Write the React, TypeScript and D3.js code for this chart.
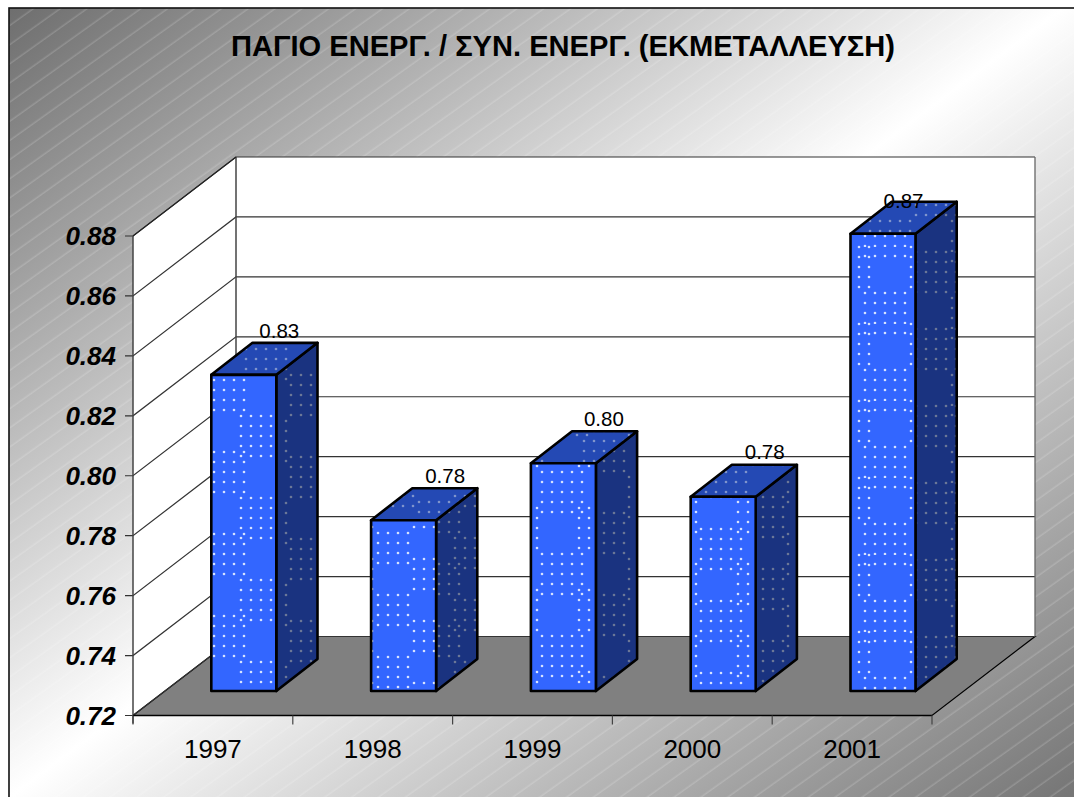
import React from "react";
import * as d3 from "d3";

const title = "ΠΑΓΙΟ ΕΝΕΡΓ. / ΣΥΝ. ΕΝΕΡΓ. (ΕΚΜΕΤΑΛΛΕΥΣΗ)";
const years = ["1997", "1998", "1999", "2000", "2001"];
const ratios = [0.8255, 0.777, 0.796, 0.7848, 0.8726];
const yTicks = [0.72, 0.74, 0.76, 0.78, 0.8, 0.82, 0.84, 0.86, 0.88];

// layout
const W = 1074, H = 797;
const FRONT_L = 133, FRONT_R = 932, FLOOR_Y = 715.5, TOP_Y = 236;
const DX = 103, DY = 79;
const BAR_W = 65;
const x = d3.scaleBand<string>().domain(years).range([FRONT_L, FRONT_R]);
const y = d3.scaleLinear().domain([0.72, 0.88]).range([FLOOR_Y, TOP_Y]);
const line = d3.line<[number, number]>();
const poly = (p: [number, number][]) => line(p) + "Z";

// dot texture anchors of each column (the texture drifts between columns)
const textures = [
  { ax: 204, ay: 452, bx: 241, by: 416, py: 82 },
  { ax: 368, ay: 533, bx: 414, by: 559, py: 62 },
  { ax: 542, ay: 472, bx: 579, by: 508, py: 82 },
  { ax: 701, ay: 529, bx: 738, by: 564, py: 72 },
  { ax: 829, ay: 247, bx: 865, by: 293, py: 77 },
];
const labelOffsets = [
  { dx: 68, dy: -37 },
  { dx: 74, dy: -37 },
  { dx: 73, dy: -37 },
  { dx: 74, dy: -38 },
  { dx: 53, dy: -26 },
];
const PX = 82;

function dots(t: { ax: number; ay: number; bx: number; by: number; py: number }, fill: string) {
  const mod = (v: number, m: number) => ((v % m) + m) % m;
  const rows = t.py < 70 ? 4 : 5;
  const out: React.ReactElement[] = [];
  const add = (ox: number, oy: number, key: string) => {
    d3.range(5).forEach((i) =>
      d3.range(rows).forEach((j) => {
        const cx = mod(ox + i * 10, PX);
        const cy = mod(oy + j * 10, t.py);
        [0, PX].forEach((sx) =>
          [0, t.py].forEach((sy) =>
            out.push(<circle key={`${key}${i}-${j}-${sx}-${sy}`} cx={cx + sx} cy={cy + sy} r={1.3} fill={fill} />)
          )
        );
      })
    );
  };
  add(0, 0, "a");
  add(t.bx - t.ax, t.by - t.ay, "b");
  return out;
}

function Pattern({ id, t, fill, sx = 0, sy = 0 }: any) {
  return (
    <pattern id={id} patternUnits="userSpaceOnUse" width={PX} height={t.py} x={t.ax + sx} y={t.ay + sy}>
      {dots(t, fill)}
    </pattern>
  );
}

export default function App() {
  const band = x.bandwidth();
  const baseDx = DX * 0.3, baseDy = DY * 0.31;
  const depthX = DX * 0.4, depthY = DY * 0.405;
  const fam = "'Liberation Sans', Arial, sans-serif";
  return (
    <svg width={W} height={H} viewBox={`0 0 ${W} ${H}`} style={{ position: "absolute", left: 0, top: 0, display: "block" }}>
      <defs>
        <linearGradient id="bg" gradientUnits="userSpaceOnUse" x1={161} y1={-106} x2={919} y2={906}>
          <stop offset="0" stopColor="#6e6e6e" />
          <stop offset="0.5" stopColor="#ffffff" />
          <stop offset="1" stopColor="#767676" />
        </linearGradient>
        <pattern id="hatch" patternUnits="userSpaceOnUse" width={40} height={15.6} patternTransform="rotate(-35.5 9 8)">
          <line x1={0} x2={40} y1={7} y2={7} stroke="#fff" strokeOpacity={0.3} strokeWidth={0.8} />
        </pattern>
        {textures.map((t, i) => (
          <g key={i}>
            <Pattern id={`front${i}`} t={t} fill="#d6e2ff" />
            <Pattern id={`side${i}`} t={t} fill="#6b7797" sx={5} sy={5} />
            <Pattern id={`top${i}`} t={t} fill="#8094cc" sx={5} sy={5} />
          </g>
        ))}
      </defs>

      <rect width={W} height={H} fill="#fff" />
      <rect x={9} y={8} width={W + 10} height={H + 10} fill="url(#bg)" />
      <rect x={9} y={8} width={W + 10} height={H + 10} fill="url(#hatch)" />
      <rect x={9} y={8} width={W + 10} height={H + 10} fill="none" stroke="#111" strokeWidth={1.6} />

      <text x={563} y={55.5} textAnchor="middle" fontFamily={fam} fontWeight="bold" fontSize={29.1} fill="#000">{title}</text>

      {/* walls */}
      <path d={poly([[FRONT_L, FLOOR_Y], [FRONT_L, TOP_Y], [FRONT_L + DX, TOP_Y - DY], [FRONT_L + DX, FLOOR_Y - DY]])} fill="#fff" />
      <path d={poly([[FRONT_L + DX, FLOOR_Y - DY], [FRONT_L + DX, TOP_Y - DY], [FRONT_R + DX, TOP_Y - DY], [FRONT_R + DX, FLOOR_Y - DY]])} fill="#fff" />
      <path d={poly([[FRONT_L, FLOOR_Y], [FRONT_R, FLOOR_Y], [FRONT_R + DX, FLOOR_Y - DY], [FRONT_L + DX, FLOOR_Y - DY]])} fill="#808080" stroke="#000" strokeWidth={1.2} />

      {yTicks.map((v) => (
        <g key={v}>
          <path d={line([[FRONT_L - 8, y(v)], [FRONT_L, y(v)], [FRONT_L + DX, y(v) - DY], [FRONT_R + DX, y(v) - DY]])!} fill="none" stroke="#333" strokeWidth={1.2} />
          <text x={116} y={y(v) + 9} textAnchor="end" fontFamily={fam} fontWeight="bold" fontStyle="italic" fontSize={26} fill="#000">{v.toFixed(2)}</text>
        </g>
      ))}
      <path d={line([[FRONT_L, TOP_Y], [FRONT_L, FLOOR_Y + 8]])!} stroke="#444" strokeWidth={1.5} fill="none" />
      <path d={line([[FRONT_L + DX, FLOOR_Y - DY], [FRONT_L + DX, TOP_Y - DY]])!} stroke="#444" strokeWidth={1.5} fill="none" />
      <path d={line([[FRONT_R + DX, FLOOR_Y - DY], [FRONT_R + DX, TOP_Y - DY]])!} stroke="#666" strokeWidth={1.3} fill="none" />
      <path d={line([[FRONT_L, TOP_Y], [FRONT_L + DX, TOP_Y - DY]])!} stroke="#222" strokeWidth={1.1} fill="none" />
      <path d={line([[FRONT_L, FLOOR_Y], [FRONT_R, FLOOR_Y]])!} stroke="#000" strokeWidth={1.4} fill="none" />

      {[...years.map((c) => x(c)!), FRONT_R].map((tx) => (
        <path key={tx} d={line([[tx, FLOOR_Y], [tx, FLOOR_Y + 9]])!} stroke="#444" strokeWidth={1.2} fill="none" />
      ))}
      {years.map((c) => (
        <text key={c} x={x(c)! + band / 2} y={758} textAnchor="middle" fontFamily={fam} fontSize={26} fill="#000">{c}</text>
      ))}

      {/* bars */}
      {years.map((c, i) => {
        const l = x(c)! + (band - BAR_W) / 2 + baseDx;
        const r = l + BAR_W;
        const b = FLOOR_Y - baseDy;
        const t = y(ratios[i]) - baseDy;
        const frontP: [number, number][] = [[l, b], [l, t], [r, t], [r, b]];
        const sideP: [number, number][] = [[r, b], [r, t], [r + depthX, t - depthY], [r + depthX, b - depthY]];
        const topP: [number, number][] = [[l, t], [r, t], [r + depthX, t - depthY], [l + depthX, t - depthY]];
        const s = { stroke: "#000", strokeWidth: 2.6, strokeLinejoin: "round" as const };
        return (
          <g key={c}>
            <path d={poly(sideP)} fill="#1a3380" />
            <path d={poly(sideP)} fill={`url(#side${i})`} {...s} />
            <path d={poly(topP)} fill="#2449b4" />
            <path d={poly(topP)} fill={`url(#top${i})`} {...s} />
            <path d={poly(frontP)} fill="#3366ff" />
            <path d={poly(frontP)} fill={`url(#front${i})`} {...s} />
          </g>
        );
      })}
      {years.map((c, i) => {
        const l = x(c)! + (band - BAR_W) / 2 + baseDx;
        const t = y(ratios[i]) - baseDy;
        return (
          <text key={c} x={l + labelOffsets[i].dx} y={t + labelOffsets[i].dy} textAnchor="middle" fontFamily={fam} fontSize={20.5} fill="#000">
            {ratios[i].toFixed(2)}
          </text>
        );
      })}
    </svg>
  );
}
